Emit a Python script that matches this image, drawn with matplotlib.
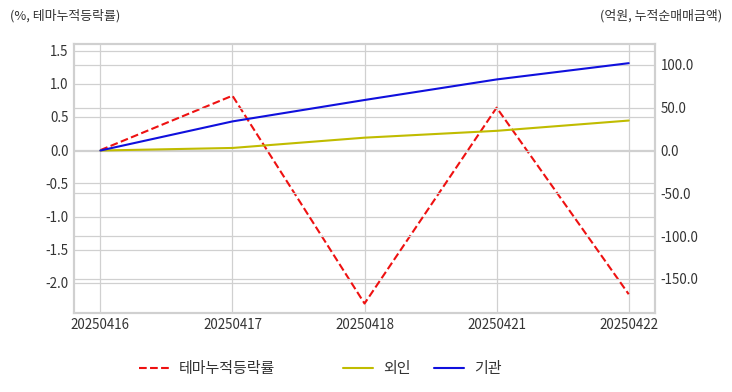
import matplotlib
matplotlib.use("Agg")
import matplotlib.pyplot as plt
import seaborn as sns

dates = ["20250416", "20250417", "20250418", "20250421", "20250422"]
theme_rate = [0.0, 0.82, -2.31, 0.64, -2.17]
foreign = [0.0, 3.0, 15.0, 23.0, 35.0]
institution = [0.0, 34.0, 59.0, 83.0, 102.0]

sns.set_style("whitegrid")
plt.rcParams['font.family'] = ['Noto Sans CJK KR', 'DejaVu Sans']
plt.rcParams['axes.unicode_minus'] = False

fig = plt.figure(figsize=(7.32, 3.92), dpi=100)
ax1 = fig.add_axes([0.101, 0.202, 0.794, 0.686])
ax2 = ax1.twinx()

x = range(len(dates))
l1, = ax1.plot(x, theme_rate, color='#ee1111', linestyle='--', linewidth=1.5, label='테마누적등락률')
l2, = ax2.plot(x, foreign, color='#c0bc00', linewidth=1.5, label='외인')
l3, = ax2.plot(x, institution, color='#1010dd', linewidth=1.5, label='기관')

ax1.set_xlim(-0.2, len(dates) - 0.8)
ax1.set_ylim(-2.45, 1.6)
ax2.set_ylim(-189.5, 124.5)
ax1.set_yticks([1.5, 1.0, 0.5, 0.0, -0.5, -1.0, -1.5, -2.0])
ax1.set_yticklabels([f"{v:.1f}" for v in [1.5, 1.0, 0.5, 0.0, -0.5, -1.0, -1.5, -2.0]])
ax2.set_yticks([100, 50, 0, -50, -100, -150])
ax2.set_yticklabels([f"{v:.1f}" for v in [100, 50, 0, -50, -100, -150]])
ax1.set_xticks(list(x))
ax1.set_xticklabels(dates)

for ax in (ax1, ax2):
    ax.tick_params(labelsize=9.6, colors='#333333', length=0, pad=4)
    ax.grid(True, color='#d0d0d0', linewidth=0.9)
    for s in ax.spines.values():
        s.set_color('#d0d0d0')
        s.set_linewidth(1.5)
ax2.grid(True, axis='y', color='#d0d0d0', linewidth=0.9)
ax2.grid(False, axis='x')

fig.text(0.014, 0.96, '(%, 테마누적등락률)', fontsize=9.3, color='#333333', ha='left', va='center')
fig.text(0.986, 0.96, '(억원, 누적순매매금액)', fontsize=9.3, color='#333333', ha='right', va='center')

fig.legend(handles=[l1], loc='center', bbox_to_anchor=(0.283, 0.059), frameon=False,
           fontsize=10.8, handlelength=2.0, handletextpad=0.65, labelcolor='#333333')
fig.legend(handles=[l2, l3], loc='center', bbox_to_anchor=(0.577, 0.059), frameon=False,
           fontsize=10.8, ncol=2, handlelength=2.0, handletextpad=0.65, columnspacing=1.6,
           labelcolor='#333333')

fig.savefig('out.png', dpi=100)
